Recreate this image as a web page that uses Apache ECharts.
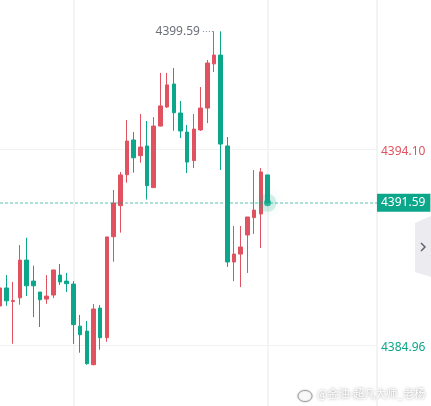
<!DOCTYPE html>
<html>
<head>
<meta charset="utf-8">
<style>
  html, body { margin: 0; padding: 0; background: #ffffff; }
  #chart { width: 431px; height: 406px; }
</style>
<script src="https://cdn.jsdelivr.net/npm/echarts@6/dist/echarts.min.js"></script>
</head>
<body>
<div id="chart"></div>
<script>
// ---- data ----
const opens  = [4386.78, 4387.62, 4386.99, 4387.16, 4388.92, 4387.94, 4387.43, 4387.10, 4387.29, 4388.22, 4387.94, 4387.80, 4385.84, 4385.61, 4384.04, 4386.68, 4385.30, 4390.01, 4391.46, 4392.90, 4394.52, 4393.79, 4394.24, 4392.30, 4395.17, 4396.06, 4397.13, 4395.78, 4394.89, 4393.56, 4394.99, 4396.01, 4398.07, 4398.48, 4394.24, 4388.83, 4389.20, 4390.09, 4390.90, 4391.07, 4392.89];
const closes = [4387.62, 4387.02, 4387.03, 4388.92, 4387.72, 4387.72, 4387.07, 4387.24, 4388.46, 4387.90, 4387.82, 4385.91, 4385.44, 4384.09, 4386.64, 4385.30, 4390.00, 4391.58, 4392.89, 4394.47, 4393.69, 4394.19, 4392.39, 4395.17, 4396.11, 4397.09, 4395.79, 4394.94, 4393.49, 4395.03, 4396.01, 4398.11, 4398.48, 4394.33, 4388.83, 4389.20, 4389.53, 4390.93, 4391.25, 4393.03, 4391.59];
const lows   = [4386.70, 4386.79, 4385.02, 4386.84, 4387.24, 4386.26, 4385.80, 4386.88, 4387.15, 4387.76, 4387.43, 4385.01, 4384.60, 4384.04, 4384.02, 4384.74, 4385.11, 4388.84, 4390.20, 4392.53, 4393.00, 4393.46, 4391.74, 4392.28, 4395.15, 4396.01, 4394.95, 4394.61, 4392.98, 4393.21, 4394.94, 4395.31, 4397.69, 4393.12, 4388.60, 4387.94, 4387.66, 4388.32, 4390.14, 4389.48, 4391.59];
const highs  = [4387.70, 4388.22, 4387.90, 4389.62, 4389.96, 4388.66, 4387.43, 4388.22, 4388.46, 4388.74, 4388.32, 4387.94, 4386.36, 4386.08, 4386.87, 4386.82, 4390.00, 4392.19, 4393.03, 4395.45, 4394.89, 4395.73, 4395.41, 4395.59, 4397.65, 4397.65, 4397.88, 4396.34, 4395.22, 4395.73, 4396.99, 4398.25, 4399.59, 4399.59, 4394.66, 4390.51, 4390.51, 4390.93, 4393.12, 4393.21, 4392.89];
const yTickStart = 4375.82;     // axis tick base
const yTickStep  = 9.14;        // distance between labelled price lines
const gridLineSlots = [11, 40]; // vertical grid lines (bar index)
const watermark = '@金油-超凡大师_老杨';

// ---- derived ----
const UP = '#e05260', DOWN = '#0ca68a';
const candleData = opens.map((o, i) => [i, o, closes[i], lows[i], highs[i]]);
const last = closes[closes.length - 1];
const lastIdx = closes.length - 1;
const maxHigh = Math.max(...highs);
const maxIdx = highs.indexOf(maxHigh);

const chart = echarts.init(document.getElementById('chart'), null, { renderer: 'canvas' });
chart.setOption({
  animation: false,
  backgroundColor: '#ffffff',
  textStyle: { fontFamily: 'Noto Sans' },
  grid: { left: 0, right: 54, top: -47, bottom: -135, containLabel: false, outerBoundsMode: 'none' },
  xAxis: {
    type: 'value', min: 0.03, max: 56.36, show: false
  },
  yAxis: {
    type: 'value', position: 'right', scale: true,
    min: yTickStart, max: yTickStart + 3 * yTickStep, interval: yTickStep,
    axisLine: { show: true, lineStyle: { color: '#efeff1', width: 1.5 } },
    axisTick: { show: false },
    splitLine: { show: true, lineStyle: { color: '#f1f1f3', width: 1 } },
    axisLabel: {
      margin: 4, fontSize: 12, fontFamily: 'Noto Sans', verticalAlign: 'top', lineHeight: 12, padding: [-3, 0, 0, 0],
      formatter: v => (v >= last ? '{u|' : '{d|') + v.toFixed(2) + '}',
      rich: { u: { color: UP, fontSize: 12, fontFamily: 'Noto Sans' }, d: { color: DOWN, fontSize: 12, fontFamily: 'Noto Sans' } }
    }
  },
  series: [
    {
      // vertical time grid lines, drawn beneath the candles
      type: 'scatter', data: [], z: 0, silent: true,
      markLine: {
        z: 0, silent: true, symbol: 'none', animation: false,
        data: gridLineSlots.map(s => ({ xAxis: s })),
        lineStyle: { color: '#f1f1f3', type: 'solid', width: 1.5 },
        label: { show: false }
      }
    },
    {
      type: 'candlestick',
      z: 2,
      data: candleData,
      encode: { x: 0, y: [1, 2, 3, 4] },
      barWidth: 4,
      itemStyle: { color: UP, color0: DOWN, borderColor: UP, borderColor0: DOWN, borderWidth: 1 },
      markLine: {
        silent: true, symbol: 'none', animation: false,
        data: [
          { yAxis: last, lineStyle: { color: 'rgba(12,166,138,0.45)', type: [3, 2], width: 1.5 },
            label: { show: true, position: 'end', distance: 0, formatter: last.toFixed(2),
                     backgroundColor: DOWN, color: '#ffffff', fontSize: 12, fontFamily: 'Noto Sans',
                     padding: [1, 5, 1, 4], lineHeight: 16 } },
          [
            { coord: [maxIdx - 1.65, maxHigh], lineStyle: { color: '#8a8d99', type: [1, 2], width: 1.2 },
              label: { show: true, position: 'start', distance: 3, formatter: maxHigh.toFixed(2),
                       color: '#6c6f7b', fontSize: 12, fontFamily: 'Noto Sans' } },
            { coord: [maxIdx, maxHigh] }
          ]
        ]
      }
    },
    {
      // soft halo around the live price point
      type: 'scatter', z: 3, silent: true,
      data: [[lastIdx, last]],
      symbolSize: 18,
      itemStyle: { color: 'rgba(12,166,138,0.2)', shadowBlur: 12, shadowColor: 'rgba(12,166,138,0.55)' }
    },
    {
      type: 'scatter', z: 4, silent: true,
      data: [[lastIdx, last]],
      symbolSize: 7,
      itemStyle: { color: DOWN }
    }
  ],
  graphic: [
    { type: 'polygon', shape: { points: [[415, 223], [431, 216], [431, 277], [415, 272]] }, style: { fill: '#ebebf0' }, silent: true },
    { type: 'polyline', shape: { points: [[421, 243], [425, 247], [421, 251]] }, style: { stroke: '#5f6270', lineWidth: 1.5, fill: null }, silent: true },
    { type: 'ellipse', shape: { cx: 305, cy: 396, rx: 7, ry: 5.5 }, style: { fill: 'rgba(255,255,255,0.9)', stroke: 'rgba(120,120,120,0.6)', lineWidth: 1, shadowBlur: 2, shadowColor: 'rgba(0,0,0,0.3)' }, silent: true },
    { type: 'text', left: 317, top: 388, silent: true,
      style: { text: watermark, fill: 'rgba(255,255,255,0.95)', font: '11px "Noto Sans CJK SC"',
               textShadowColor: 'rgba(0,0,0,0.45)', textShadowBlur: 3 } }
  ]
});
</script>
</body>
</html>
